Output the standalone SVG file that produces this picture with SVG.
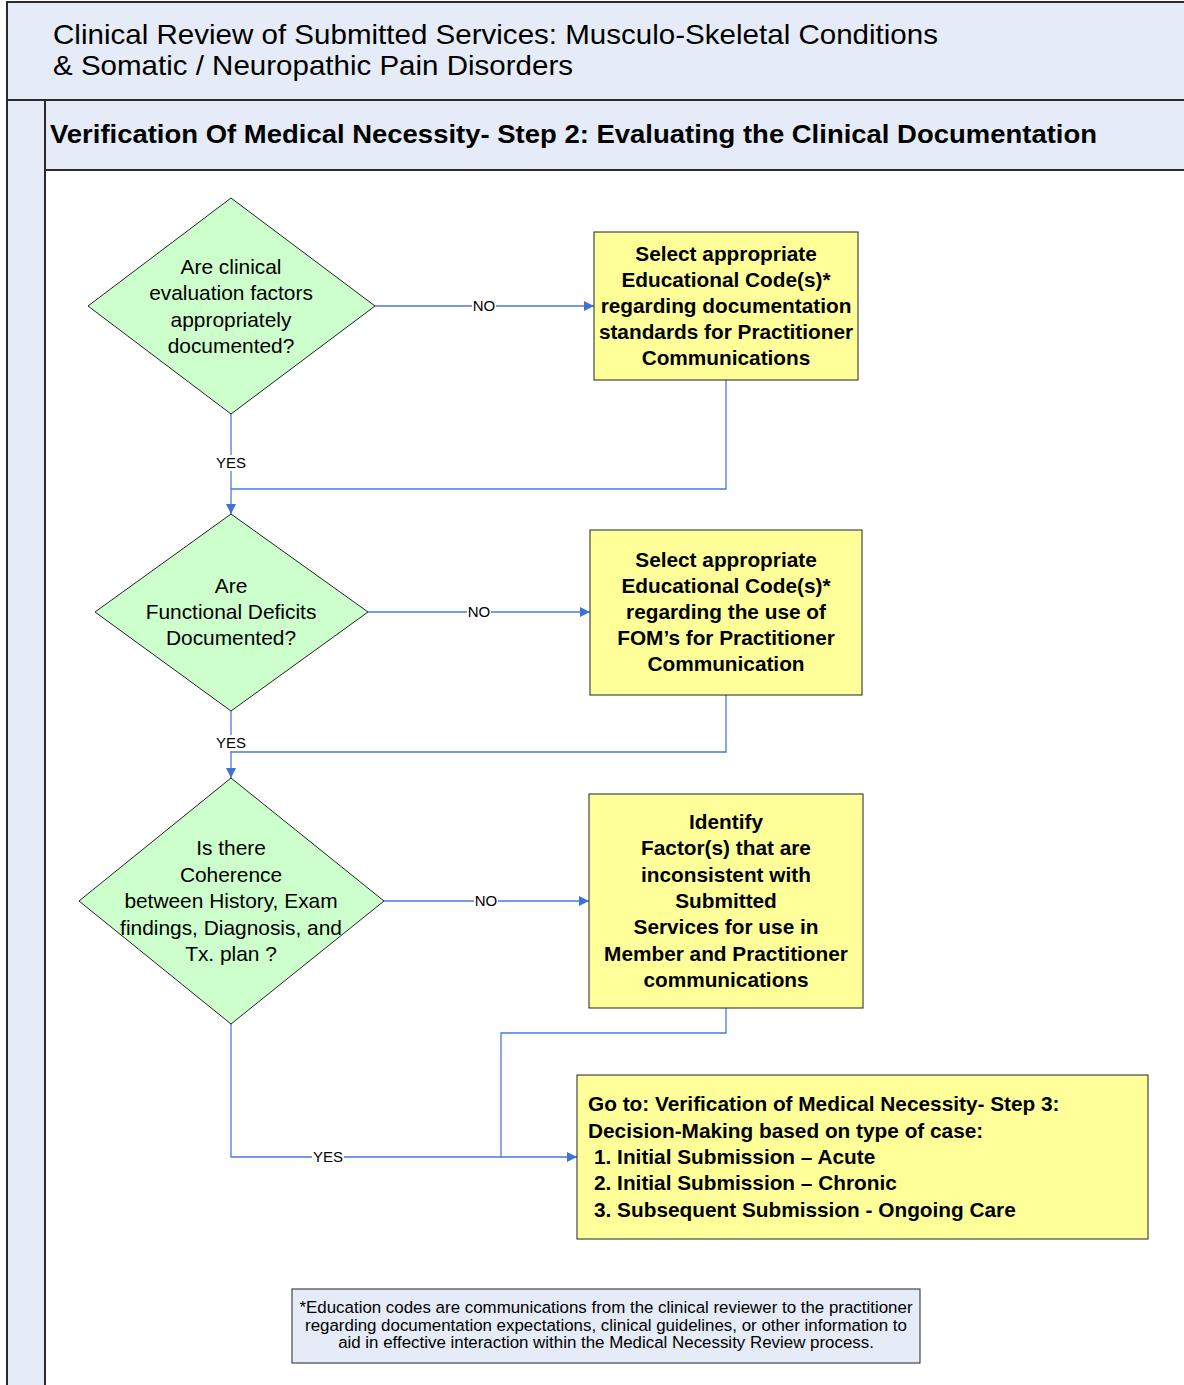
<svg xmlns="http://www.w3.org/2000/svg" width="1184" height="1385" viewBox="0 0 1184 1385">
<style>
.frame{fill:#E5ECF7;stroke:#2b2b2b;stroke-width:2}
.dia{fill:#CCFFCC;stroke:#222;stroke-width:1}
.box{fill:#FFFF99;stroke:#222;stroke-width:1}
.dt{font-family:"Liberation Sans",Arial,sans-serif;font-size:20.9px;fill:#000;text-anchor:middle}
.bt{font-family:"Liberation Sans",Arial,sans-serif;font-size:20.8px;font-weight:bold;fill:#000;text-anchor:middle}
.bl{font-family:"Liberation Sans",Arial,sans-serif;font-size:20.8px;font-weight:bold;fill:#000}
.lbl{font-family:"Liberation Sans",Arial,sans-serif;font-size:15px;fill:#000;text-anchor:middle}
.conn{fill:none;stroke:#4A78E0;stroke-width:1.3}
.note{font-family:"Liberation Sans",Arial,sans-serif;font-size:16.9px;fill:#000;text-anchor:middle}
</style>
<defs>
<marker id="arr" viewBox="0 0 10 10" refX="10" refY="5" markerWidth="10" markerHeight="10" markerUnits="userSpaceOnUse" orient="auto">
<path d="M0,0 L10,5 L0,10 z" fill="#3F72D6"/>
</marker>
</defs>
<rect width="1184" height="1385" fill="#fff"/>
<g id="frame">
<rect class="frame" x="7" y="2" width="1190" height="98"/>
<rect class="frame" x="7" y="100" width="38" height="1295"/>
<rect class="frame" x="45" y="100" width="1150" height="70"/>
<text x="53" y="44" font-family="Liberation Sans, Arial, sans-serif" font-size="28" textLength="885" lengthAdjust="spacingAndGlyphs">Clinical Review of Submitted Services: Musculo-Skeletal Conditions</text>
<text x="53" y="75" font-family="Liberation Sans, Arial, sans-serif" font-size="28" textLength="520" lengthAdjust="spacingAndGlyphs">&amp; Somatic / Neuropathic Pain Disorders</text>
<text x="50" y="143" font-family="Liberation Sans, Arial, sans-serif" font-size="25" font-weight="bold" textLength="1047" lengthAdjust="spacingAndGlyphs">Verification Of Medical Necessity- Step 2: Evaluating the Clinical Documentation</text>
</g>
<g id="connectors">
<line class="conn" x1="375" y1="306" x2="594" y2="306" marker-end="url(#arr)"/>
<path class="conn" d="M231,414 V514" marker-end="url(#arr)"/>
<path class="conn" d="M726,380 V489 H231"/>
<line class="conn" x1="368" y1="612" x2="590" y2="612" marker-end="url(#arr)"/>
<path class="conn" d="M231,711 V778" marker-end="url(#arr)"/>
<path class="conn" d="M726,695 V752 H231"/>
<line class="conn" x1="384" y1="901" x2="589" y2="901" marker-end="url(#arr)"/>
<path class="conn" d="M231,1024 V1157 H577" marker-end="url(#arr)"/>
<path class="conn" d="M726,1008 V1033 H501 V1157"/>
<rect x="472" y="298" width="24" height="16" fill="#fff"/>
<text class="lbl" x="484" y="311">NO</text>
<rect x="215" y="455" width="32" height="16" fill="#fff"/>
<text class="lbl" x="231" y="468">YES</text>
<rect x="467" y="604" width="24" height="16" fill="#fff"/>
<text class="lbl" x="479" y="617">NO</text>
<rect x="215" y="735" width="32" height="16" fill="#fff"/>
<text class="lbl" x="231" y="748">YES</text>
<rect x="474" y="893" width="24" height="16" fill="#fff"/>
<text class="lbl" x="486" y="906">NO</text>
<rect x="312" y="1149" width="32" height="16" fill="#fff"/>
<text class="lbl" x="328" y="1162">YES</text>
</g>
<g id="d1">
<polygon class="dia" points="231,198 375,306 231,414 88,306"/>
<text class="dt" x="231" y="274">Are clinical</text>
<text class="dt" x="231" y="300">evaluation factors</text>
<text class="dt" x="231" y="327">appropriately</text>
<text class="dt" x="231" y="353">documented?</text>
</g>
<g id="b1">
<rect class="box" x="594" y="232" width="264" height="148"/>
<text class="bt" x="726" y="261">Select appropriate</text>
<text class="bt" x="726" y="287">Educational Code(s)*</text>
<text class="bt" x="726" y="313">regarding documentation</text>
<text class="bt" x="726" y="339">standards for Practitioner</text>
<text class="bt" x="726" y="365">Communications</text>
</g>
<g id="d2">
<polygon class="dia" points="231,514 368,612 231,711 95,612"/>
<text class="dt" x="231" y="593">Are</text>
<text class="dt" x="231" y="619">Functional Deficits</text>
<text class="dt" x="231" y="645">Documented?</text>
</g>
<g id="b2">
<rect class="box" x="590" y="530" width="272" height="165"/>
<text class="bt" x="726" y="567">Select appropriate</text>
<text class="bt" x="726" y="593">Educational Code(s)*</text>
<text class="bt" x="726" y="619">regarding the use of</text>
<text class="bt" x="726" y="645">FOM’s for Practitioner</text>
<text class="bt" x="726" y="671">Communication</text>
</g>
<g id="d3">
<polygon class="dia" points="231,778 384,901 231,1024 79,901"/>
<text class="dt" x="231" y="855">Is there</text>
<text class="dt" x="231" y="882">Coherence</text>
<text class="dt" x="231" y="908">between History, Exam</text>
<text class="dt" x="231" y="935">findings, Diagnosis, and</text>
<text class="dt" x="231" y="961">Tx. plan ?</text>
</g>
<g id="b3">
<rect class="box" x="589" y="794" width="274" height="214"/>
<text class="bt" x="726" y="829">Identify</text>
<text class="bt" x="726" y="855">Factor(s) that are</text>
<text class="bt" x="726" y="882">inconsistent with</text>
<text class="bt" x="726" y="908">Submitted</text>
<text class="bt" x="726" y="934">Services for use in</text>
<text class="bt" x="726" y="961">Member and Practitioner</text>
<text class="bt" x="726" y="987">communications</text>
</g>
<g id="b4">
<rect class="box" x="577" y="1075" width="571" height="164"/>
<text class="bl" x="588" y="1111">Go to: Verification of Medical Necessity- Step 3:</text>
<text class="bl" x="588" y="1138">Decision-Making based on type of case:</text>
<text class="bl" x="594" y="1164">1. Initial Submission – Acute</text>
<text class="bl" x="594" y="1190">2. Initial Submission – Chronic</text>
<text class="bl" x="594" y="1217">3. Subsequent Submission - Ongoing Care</text>
</g>
<g id="note">
<rect x="292" y="1289" width="628" height="74" fill="#E5ECF7" stroke="#222" stroke-width="1"/>
<text class="note" x="606" y="1313">*Education codes are communications from the clinical reviewer to the practitioner</text>
<text class="note" x="606" y="1331">regarding documentation expectations, clinical guidelines, or other information to</text>
<text class="note" x="606" y="1348">aid in effective interaction within the Medical Necessity Review process.</text>
</g>
</svg>
